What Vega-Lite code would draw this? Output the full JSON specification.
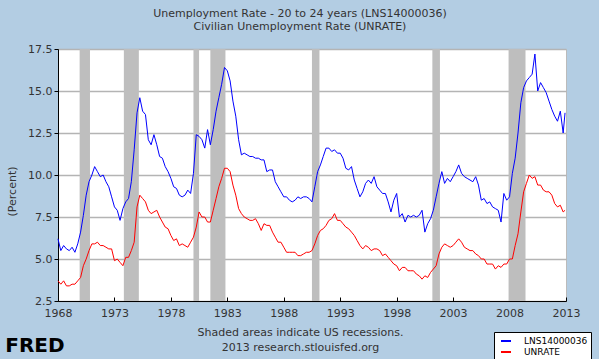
{
  "$schema": "https://vega.github.io/schema/vega-lite/v6.json",
  "width": 508,
  "height": 252,
  "autosize": {"type": "none"},
  "padding": {"left": 58, "top": 49, "right": 33, "bottom": 58},
  "background": "#b3cde3",
  "title": {
    "text": ["Unemployment Rate - 20 to 24 years (LNS14000036)", "Civilian Unemployment Rate (UNRATE)"],
    "font": "DejaVu Sans", "fontSize": 11, "fontWeight": "normal", "color": "#333333",
    "anchor": "middle", "dx": -12, "offset": 11, "lineHeight": 13
  },
  "config": {
    "view": {"fill": "white", "stroke": "#bbbbbb"},
    "font": "DejaVu Sans"
  },
  "datasets": {
    "rec": [
      {"start": "1969-12-01", "end": "1970-11-01"},
      {"start": "1973-11-01", "end": "1975-03-01"},
      {"start": "1980-01-01", "end": "1980-07-01"},
      {"start": "1981-07-01", "end": "1982-11-01"},
      {"start": "1990-07-01", "end": "1991-03-01"},
      {"start": "2001-03-01", "end": "2001-11-01"},
      {"start": "2007-12-01", "end": "2009-06-01"}
    ],
    "series": [
      {"t": "1968-01-01", "LNS14000036": 6.2, "UNRATE": 3.7},
      {"t": "1968-04-01", "LNS14000036": 5.5, "UNRATE": 3.5},
      {"t": "1968-07-01", "LNS14000036": 5.8, "UNRATE": 3.7},
      {"t": "1968-10-01", "LNS14000036": 5.6, "UNRATE": 3.4},
      {"t": "1969-01-01", "LNS14000036": 5.5, "UNRATE": 3.4},
      {"t": "1969-04-01", "LNS14000036": 5.7, "UNRATE": 3.5},
      {"t": "1969-07-01", "LNS14000036": 5.4, "UNRATE": 3.5},
      {"t": "1969-10-01", "LNS14000036": 5.9, "UNRATE": 3.7},
      {"t": "1970-01-01", "LNS14000036": 6.6, "UNRATE": 3.9},
      {"t": "1970-04-01", "LNS14000036": 7.6, "UNRATE": 4.6},
      {"t": "1970-07-01", "LNS14000036": 8.8, "UNRATE": 5.0},
      {"t": "1970-10-01", "LNS14000036": 9.6, "UNRATE": 5.5},
      {"t": "1971-01-01", "LNS14000036": 10.0, "UNRATE": 5.9},
      {"t": "1971-04-01", "LNS14000036": 10.5, "UNRATE": 5.9},
      {"t": "1971-07-01", "LNS14000036": 10.2, "UNRATE": 6.0},
      {"t": "1971-10-01", "LNS14000036": 9.9, "UNRATE": 5.8},
      {"t": "1972-01-01", "LNS14000036": 10.0, "UNRATE": 5.8},
      {"t": "1972-04-01", "LNS14000036": 9.6, "UNRATE": 5.7},
      {"t": "1972-07-01", "LNS14000036": 9.3, "UNRATE": 5.6},
      {"t": "1972-10-01", "LNS14000036": 8.7, "UNRATE": 5.6},
      {"t": "1973-01-01", "LNS14000036": 8.1, "UNRATE": 4.9},
      {"t": "1973-04-01", "LNS14000036": 7.9, "UNRATE": 5.0},
      {"t": "1973-07-01", "LNS14000036": 7.3, "UNRATE": 4.8},
      {"t": "1973-10-01", "LNS14000036": 8.0, "UNRATE": 4.6},
      {"t": "1974-01-01", "LNS14000036": 8.4, "UNRATE": 5.1},
      {"t": "1974-04-01", "LNS14000036": 8.6, "UNRATE": 5.1},
      {"t": "1974-07-01", "LNS14000036": 9.6, "UNRATE": 5.5},
      {"t": "1974-10-01", "LNS14000036": 11.5, "UNRATE": 6.0},
      {"t": "1975-01-01", "LNS14000036": 13.7, "UNRATE": 8.1},
      {"t": "1975-04-01", "LNS14000036": 14.6, "UNRATE": 8.8},
      {"t": "1975-07-01", "LNS14000036": 13.8, "UNRATE": 8.6},
      {"t": "1975-10-01", "LNS14000036": 13.6, "UNRATE": 8.4},
      {"t": "1976-01-01", "LNS14000036": 12.1, "UNRATE": 7.9},
      {"t": "1976-04-01", "LNS14000036": 11.8, "UNRATE": 7.7},
      {"t": "1976-07-01", "LNS14000036": 12.4, "UNRATE": 7.8},
      {"t": "1976-10-01", "LNS14000036": 11.8, "UNRATE": 7.9},
      {"t": "1977-01-01", "LNS14000036": 11.1, "UNRATE": 7.5},
      {"t": "1977-04-01", "LNS14000036": 11.0, "UNRATE": 7.2},
      {"t": "1977-07-01", "LNS14000036": 10.5, "UNRATE": 6.9},
      {"t": "1977-10-01", "LNS14000036": 10.2, "UNRATE": 6.8},
      {"t": "1978-01-01", "LNS14000036": 9.8, "UNRATE": 6.4},
      {"t": "1978-04-01", "LNS14000036": 9.3, "UNRATE": 6.1},
      {"t": "1978-07-01", "LNS14000036": 9.2, "UNRATE": 6.2},
      {"t": "1978-10-01", "LNS14000036": 8.8, "UNRATE": 5.8},
      {"t": "1979-01-01", "LNS14000036": 8.7, "UNRATE": 5.9},
      {"t": "1979-04-01", "LNS14000036": 8.8, "UNRATE": 5.8},
      {"t": "1979-07-01", "LNS14000036": 9.1, "UNRATE": 5.7},
      {"t": "1979-10-01", "LNS14000036": 8.9, "UNRATE": 6.0},
      {"t": "1980-01-01", "LNS14000036": 10.1, "UNRATE": 6.3},
      {"t": "1980-04-01", "LNS14000036": 12.4, "UNRATE": 6.9},
      {"t": "1980-07-01", "LNS14000036": 12.3, "UNRATE": 7.8},
      {"t": "1980-10-01", "LNS14000036": 12.1, "UNRATE": 7.5},
      {"t": "1981-01-01", "LNS14000036": 11.6, "UNRATE": 7.5},
      {"t": "1981-04-01", "LNS14000036": 12.7, "UNRATE": 7.2},
      {"t": "1981-07-01", "LNS14000036": 11.8, "UNRATE": 7.2},
      {"t": "1981-10-01", "LNS14000036": 12.7, "UNRATE": 7.9},
      {"t": "1982-01-01", "LNS14000036": 13.8, "UNRATE": 8.6},
      {"t": "1982-04-01", "LNS14000036": 14.6, "UNRATE": 9.3},
      {"t": "1982-07-01", "LNS14000036": 15.4, "UNRATE": 9.8},
      {"t": "1982-10-01", "LNS14000036": 16.4, "UNRATE": 10.4},
      {"t": "1983-01-01", "LNS14000036": 16.2, "UNRATE": 10.4},
      {"t": "1983-04-01", "LNS14000036": 15.6, "UNRATE": 10.2},
      {"t": "1983-07-01", "LNS14000036": 14.4, "UNRATE": 9.4},
      {"t": "1983-10-01", "LNS14000036": 13.5, "UNRATE": 8.8},
      {"t": "1984-01-01", "LNS14000036": 12.1, "UNRATE": 8.0},
      {"t": "1984-04-01", "LNS14000036": 11.2, "UNRATE": 7.7},
      {"t": "1984-07-01", "LNS14000036": 11.3, "UNRATE": 7.5},
      {"t": "1984-10-01", "LNS14000036": 11.2, "UNRATE": 7.4},
      {"t": "1985-01-01", "LNS14000036": 11.1, "UNRATE": 7.3},
      {"t": "1985-04-01", "LNS14000036": 11.1, "UNRATE": 7.3},
      {"t": "1985-07-01", "LNS14000036": 11.0, "UNRATE": 7.4},
      {"t": "1985-10-01", "LNS14000036": 11.0, "UNRATE": 7.1},
      {"t": "1986-01-01", "LNS14000036": 10.9, "UNRATE": 6.7},
      {"t": "1986-04-01", "LNS14000036": 10.9, "UNRATE": 7.1},
      {"t": "1986-07-01", "LNS14000036": 10.2, "UNRATE": 7.0},
      {"t": "1986-10-01", "LNS14000036": 10.3, "UNRATE": 7.0},
      {"t": "1987-01-01", "LNS14000036": 10.3, "UNRATE": 6.6},
      {"t": "1987-04-01", "LNS14000036": 9.6, "UNRATE": 6.3},
      {"t": "1987-07-01", "LNS14000036": 9.3, "UNRATE": 6.0},
      {"t": "1987-10-01", "LNS14000036": 9.0, "UNRATE": 6.0},
      {"t": "1988-01-01", "LNS14000036": 8.7, "UNRATE": 5.7},
      {"t": "1988-04-01", "LNS14000036": 8.7, "UNRATE": 5.4},
      {"t": "1988-07-01", "LNS14000036": 8.5, "UNRATE": 5.4},
      {"t": "1988-10-01", "LNS14000036": 8.4, "UNRATE": 5.4},
      {"t": "1989-01-01", "LNS14000036": 8.5, "UNRATE": 5.4},
      {"t": "1989-04-01", "LNS14000036": 8.7, "UNRATE": 5.2},
      {"t": "1989-07-01", "LNS14000036": 8.6, "UNRATE": 5.2},
      {"t": "1989-10-01", "LNS14000036": 8.7, "UNRATE": 5.3},
      {"t": "1990-01-01", "LNS14000036": 8.7, "UNRATE": 5.4},
      {"t": "1990-04-01", "LNS14000036": 8.6, "UNRATE": 5.4},
      {"t": "1990-07-01", "LNS14000036": 8.4, "UNRATE": 5.5},
      {"t": "1990-10-01", "LNS14000036": 9.3, "UNRATE": 5.9},
      {"t": "1991-01-01", "LNS14000036": 10.2, "UNRATE": 6.4},
      {"t": "1991-04-01", "LNS14000036": 10.6, "UNRATE": 6.7},
      {"t": "1991-07-01", "LNS14000036": 11.1, "UNRATE": 6.8},
      {"t": "1991-10-01", "LNS14000036": 11.6, "UNRATE": 7.0},
      {"t": "1992-01-01", "LNS14000036": 11.6, "UNRATE": 7.3},
      {"t": "1992-04-01", "LNS14000036": 11.4, "UNRATE": 7.4},
      {"t": "1992-07-01", "LNS14000036": 11.5, "UNRATE": 7.7},
      {"t": "1992-10-01", "LNS14000036": 11.3, "UNRATE": 7.3},
      {"t": "1993-01-01", "LNS14000036": 11.3, "UNRATE": 7.3},
      {"t": "1993-04-01", "LNS14000036": 11.0, "UNRATE": 7.1},
      {"t": "1993-07-01", "LNS14000036": 10.4, "UNRATE": 6.9},
      {"t": "1993-10-01", "LNS14000036": 10.3, "UNRATE": 6.8},
      {"t": "1994-01-01", "LNS14000036": 10.5, "UNRATE": 6.6},
      {"t": "1994-04-01", "LNS14000036": 9.7, "UNRATE": 6.4},
      {"t": "1994-07-01", "LNS14000036": 9.2, "UNRATE": 6.1},
      {"t": "1994-10-01", "LNS14000036": 8.7, "UNRATE": 5.8},
      {"t": "1995-01-01", "LNS14000036": 9.0, "UNRATE": 5.6},
      {"t": "1995-04-01", "LNS14000036": 9.5, "UNRATE": 5.8},
      {"t": "1995-07-01", "LNS14000036": 9.7, "UNRATE": 5.7},
      {"t": "1995-10-01", "LNS14000036": 9.5, "UNRATE": 5.5},
      {"t": "1996-01-01", "LNS14000036": 9.9, "UNRATE": 5.6},
      {"t": "1996-04-01", "LNS14000036": 9.3, "UNRATE": 5.6},
      {"t": "1996-07-01", "LNS14000036": 9.1, "UNRATE": 5.5},
      {"t": "1996-10-01", "LNS14000036": 8.9, "UNRATE": 5.2},
      {"t": "1997-01-01", "LNS14000036": 8.9, "UNRATE": 5.3},
      {"t": "1997-04-01", "LNS14000036": 8.4, "UNRATE": 5.1},
      {"t": "1997-07-01", "LNS14000036": 7.8, "UNRATE": 4.9},
      {"t": "1997-10-01", "LNS14000036": 8.5, "UNRATE": 4.7},
      {"t": "1998-01-01", "LNS14000036": 8.9, "UNRATE": 4.6},
      {"t": "1998-04-01", "LNS14000036": 7.5, "UNRATE": 4.3},
      {"t": "1998-07-01", "LNS14000036": 7.7, "UNRATE": 4.5},
      {"t": "1998-10-01", "LNS14000036": 7.2, "UNRATE": 4.5},
      {"t": "1999-01-01", "LNS14000036": 7.6, "UNRATE": 4.3},
      {"t": "1999-04-01", "LNS14000036": 7.5, "UNRATE": 4.3},
      {"t": "1999-07-01", "LNS14000036": 7.6, "UNRATE": 4.3},
      {"t": "1999-10-01", "LNS14000036": 7.5, "UNRATE": 4.1},
      {"t": "2000-01-01", "LNS14000036": 7.6, "UNRATE": 4.0},
      {"t": "2000-04-01", "LNS14000036": 7.9, "UNRATE": 3.8},
      {"t": "2000-07-01", "LNS14000036": 6.6, "UNRATE": 4.0},
      {"t": "2000-10-01", "LNS14000036": 7.1, "UNRATE": 3.9},
      {"t": "2001-01-01", "LNS14000036": 7.4, "UNRATE": 4.2},
      {"t": "2001-04-01", "LNS14000036": 7.9, "UNRATE": 4.4},
      {"t": "2001-07-01", "LNS14000036": 8.7, "UNRATE": 4.6},
      {"t": "2001-10-01", "LNS14000036": 9.5, "UNRATE": 5.3},
      {"t": "2002-01-01", "LNS14000036": 10.2, "UNRATE": 5.7},
      {"t": "2002-04-01", "LNS14000036": 9.5, "UNRATE": 5.9},
      {"t": "2002-07-01", "LNS14000036": 9.8, "UNRATE": 5.8},
      {"t": "2002-10-01", "LNS14000036": 9.6, "UNRATE": 5.7},
      {"t": "2003-01-01", "LNS14000036": 9.9, "UNRATE": 5.8},
      {"t": "2003-04-01", "LNS14000036": 10.2, "UNRATE": 6.0},
      {"t": "2003-07-01", "LNS14000036": 10.6, "UNRATE": 6.2},
      {"t": "2003-10-01", "LNS14000036": 10.1, "UNRATE": 6.0},
      {"t": "2004-01-01", "LNS14000036": 9.9, "UNRATE": 5.7},
      {"t": "2004-04-01", "LNS14000036": 9.8, "UNRATE": 5.6},
      {"t": "2004-07-01", "LNS14000036": 9.7, "UNRATE": 5.5},
      {"t": "2004-10-01", "LNS14000036": 9.6, "UNRATE": 5.5},
      {"t": "2005-01-01", "LNS14000036": 9.9, "UNRATE": 5.3},
      {"t": "2005-04-01", "LNS14000036": 9.4, "UNRATE": 5.2},
      {"t": "2005-07-01", "LNS14000036": 8.5, "UNRATE": 5.0},
      {"t": "2005-10-01", "LNS14000036": 8.6, "UNRATE": 5.0},
      {"t": "2006-01-01", "LNS14000036": 8.3, "UNRATE": 4.7},
      {"t": "2006-04-01", "LNS14000036": 8.4, "UNRATE": 4.7},
      {"t": "2006-07-01", "LNS14000036": 8.1, "UNRATE": 4.7},
      {"t": "2006-10-01", "LNS14000036": 8.0, "UNRATE": 4.4},
      {"t": "2007-01-01", "LNS14000036": 7.9, "UNRATE": 4.6},
      {"t": "2007-04-01", "LNS14000036": 7.2, "UNRATE": 4.5},
      {"t": "2007-07-01", "LNS14000036": 8.9, "UNRATE": 4.7},
      {"t": "2007-10-01", "LNS14000036": 8.5, "UNRATE": 4.7},
      {"t": "2008-01-01", "LNS14000036": 8.7, "UNRATE": 5.0},
      {"t": "2008-04-01", "LNS14000036": 10.1, "UNRATE": 5.0},
      {"t": "2008-07-01", "LNS14000036": 11.0, "UNRATE": 5.8},
      {"t": "2008-10-01", "LNS14000036": 12.5, "UNRATE": 6.5},
      {"t": "2009-01-01", "LNS14000036": 14.3, "UNRATE": 7.8},
      {"t": "2009-04-01", "LNS14000036": 15.2, "UNRATE": 9.0},
      {"t": "2009-07-01", "LNS14000036": 15.6, "UNRATE": 9.5},
      {"t": "2009-10-01", "LNS14000036": 15.8, "UNRATE": 10.0},
      {"t": "2010-01-01", "LNS14000036": 16.0, "UNRATE": 9.8},
      {"t": "2010-04-01", "LNS14000036": 17.2, "UNRATE": 9.9},
      {"t": "2010-07-01", "LNS14000036": 15.0, "UNRATE": 9.4},
      {"t": "2010-10-01", "LNS14000036": 15.5, "UNRATE": 9.4},
      {"t": "2011-01-01", "LNS14000036": 15.2, "UNRATE": 9.1},
      {"t": "2011-04-01", "LNS14000036": 14.9, "UNRATE": 9.0},
      {"t": "2011-07-01", "LNS14000036": 14.4, "UNRATE": 9.0},
      {"t": "2011-10-01", "LNS14000036": 13.9, "UNRATE": 8.8},
      {"t": "2012-01-01", "LNS14000036": 13.5, "UNRATE": 8.3},
      {"t": "2012-04-01", "LNS14000036": 13.2, "UNRATE": 8.1},
      {"t": "2012-07-01", "LNS14000036": 13.8, "UNRATE": 8.2},
      {"t": "2012-10-01", "LNS14000036": 12.5, "UNRATE": 7.8},
      {"t": "2012-12-01", "LNS14000036": 13.7, "UNRATE": 7.9}
    ]
  },
  "layer": [
    {
      "data": {"name": "rec"},
      "mark": {"type": "rect", "color": "#bebebe"},
      "encoding": {
        "x": {"field": "start", "type": "temporal"},
        "x2": {"field": "end"}
      }
    },
    {
      "data": {"name": "series"},
      "transform": [{"fold": ["LNS14000036", "UNRATE"], "as": ["series", "value"]}],
      "mark": {"type": "line", "strokeWidth": 1},
      "encoding": {
        "x": {
          "field": "t", "type": "temporal",
          "scale": {"type": "utc", "domain": [{"year": 1968, "month": 1, "date": 1, "utc": true}, {"year": 2013, "month": 1, "date": 1, "utc": true}]},
          "axis": {
            "values": [
              {"year": 1968, "utc": true}, {"year": 1973, "utc": true}, {"year": 1978, "utc": true},
              {"year": 1983, "utc": true}, {"year": 1988, "utc": true}, {"year": 1993, "utc": true},
              {"year": 1998, "utc": true}, {"year": 2003, "utc": true}, {"year": 2008, "utc": true},
              {"year": 2013, "utc": true}
            ],
            "format": "%Y",
            "grid": false,
            "domainColor": "#000000",
            "tickColor": "#000000",
            "tickSize": -4,
            "labelPadding": 10,
            "labelFont": "DejaVu Sans", "labelFontSize": 11, "labelColor": "#333333",
            "labelFlush": false,
            "title": ["Shaded areas indicate US recessions.", "2013 research.stlouisfed.org"],
            "titleFont": "DejaVu Sans", "titleFontSize": 11, "titleFontWeight": "normal", "titleColor": "#333333",
            "titleX": 242, "titleY": 25, "titleBaseline": "top", "titleLineHeight": 15, "titleAlign": "center"
          }
        },
        "y": {
          "field": "value", "type": "quantitative",
          "scale": {"domain": [2.5, 17.5], "nice": false, "zero": false},
          "axis": {
            "values": [2.5, 5, 7.5, 10, 12.5, 15, 17.5],
            "format": ".1f",
            "grid": true, "gridColor": "#b4b4b4", "gridWidth": 1.5,
            "domainColor": "#000000", "tickColor": "#000000", "tickSize": 4, "labelPadding": 2,
            "labelFont": "DejaVu Sans", "labelFontSize": 11, "labelColor": "#333333",
            "title": "(Percent)",
            "titleFont": "DejaVu Sans", "titleFontSize": 11, "titleFontWeight": "normal", "titleColor": "#333333",
            "titleX": -46, "titleY": 142, "titleBaseline": "middle", "titleAlign": "center"
          }
        },
        "color": {
          "field": "series", "type": "nominal",
          "scale": {"domain": ["LNS14000036", "UNRATE"], "range": ["#0000ff", "#ff0000"]},
          "legend": {
            "orient": "none", "legendX": 436, "legendY": 283,
            "title": null, "symbolType": "stroke", "symbolSize": 100, "symbolStrokeWidth": 2,
            "symbolOffset": 3,
            "labelFont": "DejaVu Sans", "labelFontSize": 9, "labelColor": "#000000", "labelOffset": 12,
            "fillColor": "#ffffff", "strokeColor": "#000000", "padding": 3, "rowPadding": 0, "cornerRadius": 0
          }
        }
      }
    },
    {
      "data": {"values": [{"label": "FRED"}]},
      "mark": {"type": "text", "align": "left", "baseline": "middle", "font": "DejaVu Sans", "fontSize": 20, "fontWeight": "bold", "color": "#000000"},
      "encoding": {
        "x": {"datum": {"year": 1963, "month": 5, "date": 1, "utc": true}, "type": "temporal"},
        "y": {"datum": -0.18, "type": "quantitative"},
        "text": {"field": "label"}
      }
    }
  ]
}
